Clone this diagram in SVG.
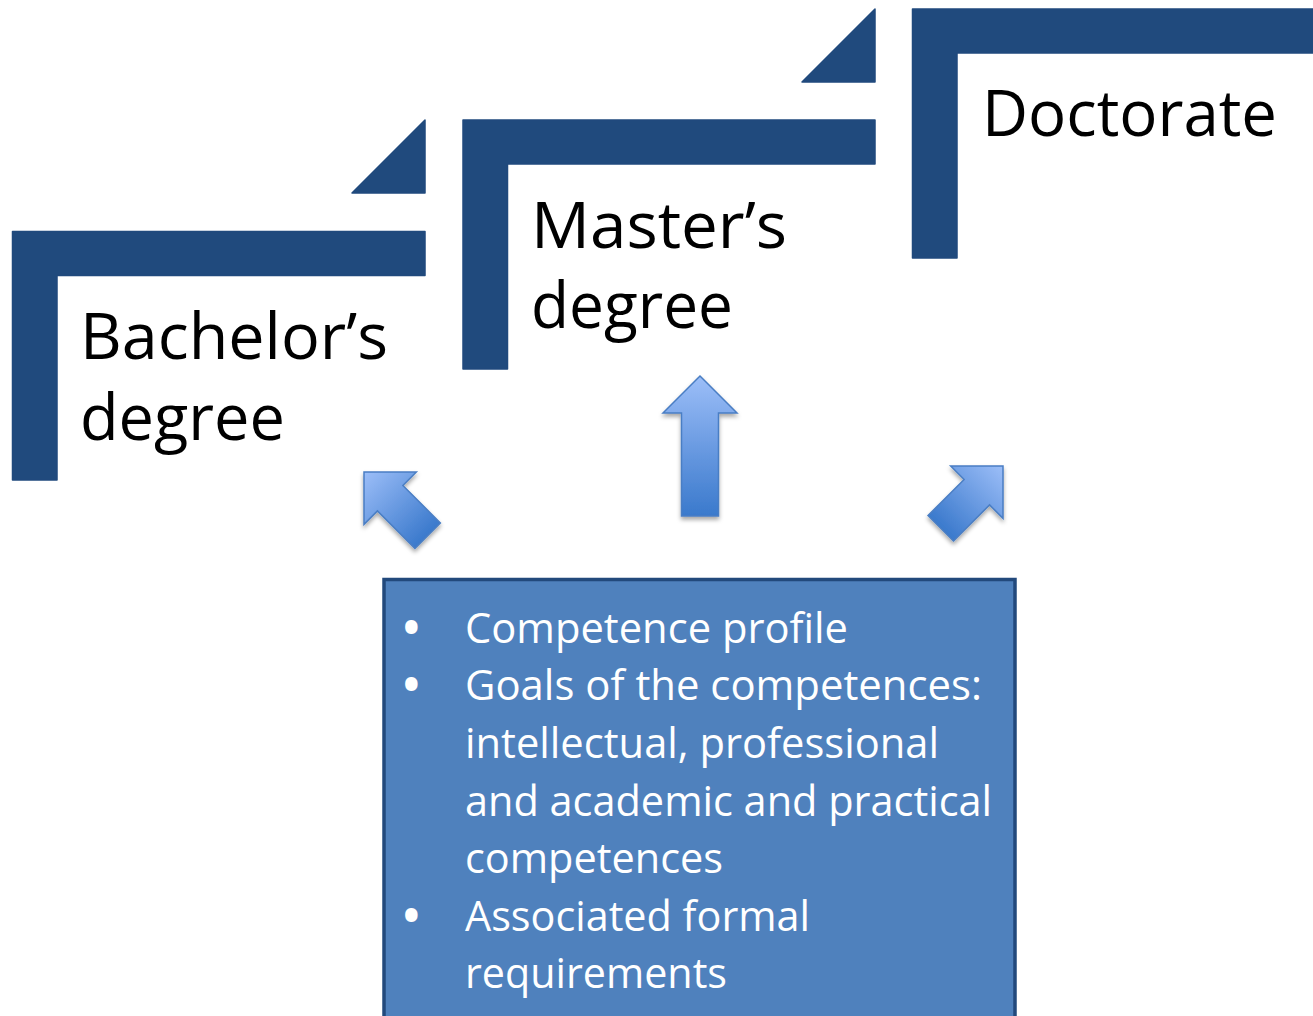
<svg xmlns="http://www.w3.org/2000/svg" width="1313" height="1016" viewBox="0 0 1313 1016">
<style>
.bar{fill:#204A7D;stroke:#204A7D;stroke-width:1.5;stroke-linejoin:round}
.lbl{font-family:"Open Sans","Noto Sans","Liberation Sans",sans-serif;font-size:64px;fill:#000}
.box{fill:#4F81BD;stroke:#22497C;stroke-width:3.5}
.btx{font-family:"Open Sans","Noto Sans","Liberation Sans",sans-serif;font-size:42px;fill:#fff}
.bul{font-weight:bold;font-size:44px}
.arr{fill:url(#ag);stroke:#4A7EC4;stroke-width:1.5;stroke-linejoin:miter}
</style>
<defs>
<linearGradient id="ag" x1="0" y1="0" x2="0" y2="1">
<stop offset="0" stop-color="#9CBEF8"/>
<stop offset="1" stop-color="#3A79CC"/>
</linearGradient>
<filter id="sh" x="-30%" y="-30%" width="160%" height="160%">
<feDropShadow dx="0" dy="3" stdDeviation="2" flood-color="#000" flood-opacity="0.35"/>
</filter>
</defs>

<g id="bachelor">
<path class="bar" d="M12.5,231.5 H425 V275.5 H57 V480 H12.5 Z"/>
<path class="bar" d="M352,193 L425,120 V193 Z"/>
<text class="lbl" x="80" y="359" textLength="308" lengthAdjust="spacingAndGlyphs">Bachelor’s</text>
<text class="lbl" x="80" y="440" textLength="205" lengthAdjust="spacingAndGlyphs">degree</text>
</g>

<g id="master">
<path class="bar" d="M463,120 H875 V164 H507.5 V369 H463 Z"/>
<path class="bar" d="M802,82 L875,9 V82 Z"/>
<text class="lbl" x="531" y="248" textLength="256" lengthAdjust="spacingAndGlyphs">Master’s</text>
<text class="lbl" x="531" y="328" textLength="202" lengthAdjust="spacingAndGlyphs">degree</text>
</g>

<g id="doctorate">
<path class="bar" d="M912.5,9 H1314 V53 H957 V258 H912.5 Z"/>
<text class="lbl" x="982" y="136" textLength="295" lengthAdjust="spacingAndGlyphs">Doctorate</text>
</g>

<g id="connectors">
<g filter="url(#sh)"><path class="arr" transform="translate(700,376)" d="M0,0 L37,37 L18.5,37 L18.5,140 L-18.5,140 L-18.5,37 L-37,37 Z"/></g>
<g filter="url(#sh)"><path class="arr" transform="translate(364,472) rotate(-45)" d="M0,0 L37,37 L18,37 L18,90 L-18,90 L-18,37 L-37,37 Z"/></g>
<g filter="url(#sh)"><path class="arr" transform="translate(1003,466) rotate(45)" d="M0,0 L37,37 L18,37 L18,88 L-18,88 L-18,37 L-37,37 Z"/></g>
</g>

<g id="requirements">
<rect class="box" x="384" y="579.5" width="631" height="460"/>
<text class="btx"><tspan class="bul" x="403" y="643">•</tspan><tspan x="465" y="643" textLength="383" lengthAdjust="spacingAndGlyphs">Competence profile</tspan></text>
<text class="btx"><tspan class="bul" x="403" y="700">•</tspan><tspan x="465" y="700" textLength="517" lengthAdjust="spacingAndGlyphs">Goals of the competences:</tspan></text>
<text class="btx" x="465" y="758" textLength="474" lengthAdjust="spacingAndGlyphs">intellectual, professional</text>
<text class="btx" x="465" y="816" textLength="527" lengthAdjust="spacingAndGlyphs">and academic and practical</text>
<text class="btx" x="465" y="873" textLength="258" lengthAdjust="spacingAndGlyphs">competences</text>
<text class="btx"><tspan class="bul" x="403" y="931">•</tspan><tspan x="465" y="931" textLength="345" lengthAdjust="spacingAndGlyphs">Associated formal</tspan></text>
<text class="btx" x="465" y="988" textLength="262" lengthAdjust="spacingAndGlyphs">requirements</text>
</g>
</svg>
